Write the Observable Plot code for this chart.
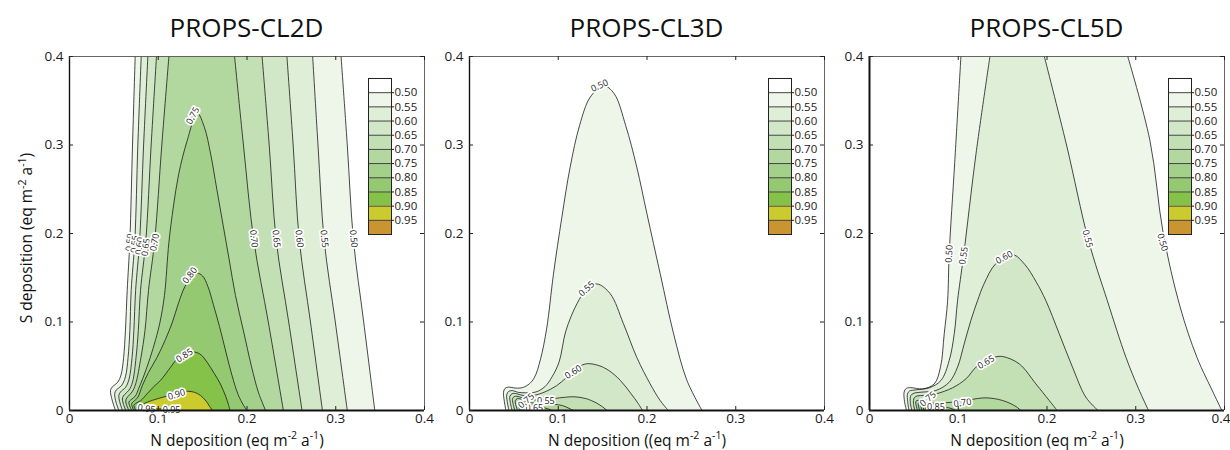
<!DOCTYPE html>
<html>
<head>
<meta charset="utf-8">
<script src="https://cdn.jsdelivr.net/npm/d3@7"></script>
<script src="https://cdn.jsdelivr.net/npm/@observablehq/plot@0.6"></script>
<style>
  body { margin: 0; background: #fff; }
  #wrap { position: relative; width: 1230px; height: 450px; overflow: hidden; background: #fff; font-family: "Open Sans", sans-serif; }
  #wrap > svg { position: absolute; }
</style>
</head>
<body>
<div id="wrap"></div>
<script>
// ---------- axis / legend values ----------
const xTicks = [0, 0.1, 0.2, 0.3, 0.4];
const yTicks = [0, 0.1, 0.2, 0.3, 0.4];
const levels = [0.50, 0.55, 0.60, 0.65, 0.70, 0.75, 0.80, 0.85, 0.90, 0.95];
const levelColors = ["#eef6ea", "#dfeed7", "#d1e7c7", "#c3e0b5", "#b2d89f", "#a3d18b", "#94c972", "#85c24a", "#cccb2d", "#c8952e"];
const belowColor = "#ffffff";
const titles = ["PROPS-CL2D", "PROPS-CL3D", "PROPS-CL5D"];
const xLabelParts = [
  ["N deposition (eq m", "-2", " a", "-1", ")"],
  ["N deposition ((eq m", "-2", " a", "-1", ")"],
  ["N deposition (eq m", "-2", " a", "-1", ")"]
];
const yLabelParts = ["S deposition (eq m", "-2", " a", "-1", ")"];

// ---------- PROPS-CL2D contour lines [N, S] ----------
const A50L = [[0.0518,0],[0.048,0.012],[0.0462,0.0226],[0.0485,0.027],[0.054,0.0315],[0.058,0.04],[0.061,0.06],[0.063,0.09],[0.065,0.1356],[0.068,0.192],[0.071,0.3],[0.074,0.4]];
const A50R = [[0.306,0.4],[0.313,0.3],[0.320,0.192],[0.3315,0.1],[0.344,0]];
const A55L = [[0.0556,0],[0.052,0.011],[0.051,0.0196],[0.053,0.0235],[0.0585,0.028],[0.063,0.038],[0.066,0.06],[0.068,0.09],[0.0695,0.1356],[0.0736,0.192],[0.077,0.3],[0.0808,0.4]];
const A55R = [[0.274,0.4],[0.280,0.3],[0.287,0.192],[0.2995,0.1],[0.313,0]];
const A60L = [[0.0597,0],[0.0565,0.010],[0.0556,0.017],[0.0575,0.021],[0.063,0.026],[0.067,0.035],[0.0705,0.06],[0.0725,0.09],[0.0745,0.1356],[0.079,0.192],[0.0835,0.3],[0.0883,0.4]];
const A60R = [[0.245,0.4],[0.252,0.3],[0.259,0.192],[0.2715,0.1],[0.285,0]];
const A65L = [[0.0635,0],[0.0605,0.008],[0.0597,0.0143],[0.062,0.018],[0.067,0.023],[0.071,0.032],[0.075,0.06],[0.0775,0.09],[0.080,0.1356],[0.086,0.192],[0.092,0.3],[0.098,0.4]];
const A65R = [[0.217,0.4],[0.225,0.3],[0.233,0.192],[0.247,0.1],[0.262,0]];
const A70L = [[0.0669,0],[0.064,0.007],[0.0635,0.012],[0.066,0.016],[0.0705,0.021],[0.0745,0.03],[0.0805,0.06],[0.085,0.09],[0.089,0.1356],[0.096,0.192],[0.104,0.3],[0.112,0.4]];
const A70R = [[0.186,0.4],[0.196,0.3],[0.2077,0.192],[0.224,0.1],[0.241,0]];
const A75 = [[0.070,0],[0.0669,0.0094],[0.069,0.012],[0.074,0.016],[0.078,0.025],[0.084,0.04],[0.091,0.06],[0.097,0.08],[0.102,0.1],[0.107,0.13],[0.112,0.19],[0.117,0.23],[0.123,0.267],[0.1326,0.305],[0.144,0.336],[0.152,0.32],[0.159,0.29],[0.166,0.25],[0.173,0.21],[0.180,0.17],[0.187,0.13],[0.196,0.09],[0.205,0.05],[0.213,0.02],[0.221,0]];
const A80 = [[0.0725,0],[0.070,0.0075],[0.072,0.010],[0.077,0.015],[0.082,0.028],[0.089,0.043],[0.0986,0.06],[0.108,0.08],[0.116,0.1],[0.123,0.122],[0.130,0.140],[0.137,0.151],[0.144,0.155],[0.150,0.152],[0.156,0.140],[0.162,0.12],[0.169,0.095],[0.1765,0.065],[0.183,0.04],[0.190,0.018],[0.196,0.006],[0.200,0]];
const A85 = [[0.0748,0],[0.0725,0.0057],[0.0745,0.008],[0.080,0.011],[0.0875,0.019],[0.095,0.027],[0.1025,0.034],[0.114,0.049],[0.121,0.058],[0.131,0.064],[0.141,0.066],[0.148,0.063],[0.155,0.0546],[0.163,0.042],[0.170,0.030],[0.176,0.016],[0.179,0.007],[0.181,0]];
const A90 = [[0.077,0],[0.0755,0.0035],[0.078,0.0045],[0.0875,0.0094],[0.100,0.0135],[0.112,0.017],[0.122,0.0205],[0.1326,0.0218],[0.141,0.0205],[0.1476,0.017],[0.154,0.0105],[0.158,0.0045],[0.161,0]];
const A95 = [[0.080,0],[0.082,0.0012],[0.100,0.0018],[0.118,0.0016],[0.128,0]];
const labelsA = [["0.50",0.068,0.190,-84],["0.55",0.0736,0.188,-84],["0.60",0.079,0.186,-84],["0.65",0.086,0.1845,-82],["0.70",0.096,0.190,-80],
  ["0.70",0.2077,0.194,84],["0.65",0.233,0.194,84],["0.60",0.259,0.194,84],["0.55",0.287,0.194,84],["0.50",0.320,0.194,84],
  ["0.75",0.139,0.333,-62],["0.80",0.1356,0.1525,-52],["0.85",0.1296,0.062,-32],["0.90",0.1206,0.018,-18],["0.95",0.0868,0.002,8],["0.95",0.115,0.001,0]];

// ---------- PROPS-CL3D contour lines ----------
const B50 = [[0.041,0],[0.039,0.012],[0.0383,0.0207],[0.040,0.025],[0.044,0.0265],[0.050,0.0255],[0.058,0.0255],[0.066,0.029],[0.073,0.037],[0.080,0.058],[0.087,0.093],[0.0946,0.154],[0.104,0.218],[0.1134,0.275],[0.124,0.322],[0.136,0.354],[0.151,0.367],[0.163,0.358],[0.176,0.322],[0.1885,0.275],[0.200,0.222],[0.215,0.154],[0.230,0.0866],[0.245,0.034],[0.262,0]];
const B55 = [[0.0445,0],[0.0425,0.010],[0.042,0.018],[0.044,0.0215],[0.048,0.0225],[0.055,0.0205],[0.063,0.020],[0.075,0.021],[0.085,0.027],[0.093,0.038],[0.101,0.055],[0.1086,0.09],[0.121,0.1205],[0.132,0.137],[0.1435,0.143],[0.1585,0.132],[0.1735,0.098],[0.1885,0.060],[0.2036,0.030],[0.2148,0.0113],[0.224,0]];
const B60 = [[0.048,0],[0.046,0.009],[0.0455,0.016],[0.048,0.019],[0.053,0.019],[0.062,0.0165],[0.072,0.017],[0.085,0.021],[0.098,0.028],[0.109,0.037],[0.118,0.046],[0.131,0.0527],[0.145,0.051],[0.157,0.0452],[0.170,0.034],[0.182,0.019],[0.190,0.008],[0.195,0]];
const B65 = [[0.051,0],[0.049,0.008],[0.0485,0.0135],[0.051,0.016],[0.056,0.0155],[0.065,0.0125],[0.080,0.012],[0.095,0.0135],[0.108,0.015],[0.118,0.0155],[0.131,0.0135],[0.143,0.0085],[0.150,0.004],[0.155,0]];
const B70 = [[0.054,0],[0.052,0.007],[0.0515,0.011],[0.054,0.0135],[0.059,0.0125],[0.068,0.009],[0.080,0.0075],[0.095,0.007],[0.105,0.0055],[0.112,0.0025],[0.117,0]];
const B75 = [[0.057,0],[0.055,0.006],[0.0545,0.0095],[0.057,0.011],[0.062,0.0095],[0.070,0.006],[0.080,0.004],[0.088,0.002],[0.093,0]];
const B80 = [[0.0595,0],[0.058,0.005],[0.0575,0.008],[0.060,0.009],[0.065,0.007],[0.072,0.003],[0.076,0]];
const B85 = [[0.062,0],[0.0605,0.004],[0.0605,0.0065],[0.063,0.007],[0.067,0.005],[0.070,0]];
const B90 = [[0.0645,0],[0.0635,0.003],[0.065,0.0042],[0.067,0.003],[0.068,0]];
const labelsB = [["0.50",0.1465,0.367,-25],["0.55",0.132,0.1375,-42],["0.60",0.117,0.0435,-32],["0.55",0.086,0.0105,0],["0.65",0.073,0.003,0],["0.75",0.064,0.011,-40]];

// ---------- PROPS-CL5D contour lines ----------
const C50L = [[0.0417,0],[0.0395,0.010],[0.039,0.0207],[0.0415,0.025],[0.0466,0.0258],[0.060,0.0245],[0.0729,0.030],[0.080,0.049],[0.0842,0.0867],[0.088,0.124],[0.0898,0.177],[0.096,0.28],[0.103,0.4]];
const C50R = [[0.291,0.4],[0.316,0.305],[0.331,0.2],[0.350,0.117],[0.369,0.060],[0.388,0.0188],[0.397,0]];
const C55L = [[0.0445,0],[0.043,0.010],[0.0428,0.0188],[0.045,0.022],[0.0523,0.0233],[0.0673,0.0256],[0.0805,0.0339],[0.0898,0.0565],[0.0955,0.0867],[0.0992,0.124],[0.106,0.175],[0.120,0.29],[0.1357,0.4]];
const C55R = [[0.197,0.4],[0.222,0.3],[0.2468,0.192],[0.268,0.124],[0.289,0.06],[0.303,0.025],[0.3144,0]];
const C60 = [[0.0478,0],[0.046,0.009],[0.0466,0.017],[0.050,0.0195],[0.058,0.0207],[0.0748,0.0226],[0.0898,0.032],[0.0992,0.049],[0.1067,0.0753],[0.1142,0.1017],[0.1217,0.124],[0.129,0.143],[0.1424,0.166],[0.1615,0.176],[0.175,0.165],[0.188,0.145],[0.1988,0.124],[0.2138,0.0867],[0.2287,0.049],[0.2438,0.015],[0.2575,0]];
const C65 = [[0.051,0],[0.0495,0.008],[0.0504,0.0143],[0.054,0.0165],[0.0617,0.017],[0.0748,0.0188],[0.0935,0.0256],[0.1087,0.0358],[0.120,0.049],[0.131,0.0565],[0.140,0.060],[0.150,0.061],[0.1687,0.0527],[0.1875,0.030],[0.2025,0.0113],[0.2115,0]];
const C70 = [[0.054,0],[0.0525,0.006],[0.0523,0.0105],[0.055,0.0115],[0.0598,0.0094],[0.0748,0.0083],[0.0935,0.0094],[0.112,0.012],[0.1312,0.0143],[0.150,0.0113],[0.165,0.0045],[0.1706,0]];
const C75 = [[0.0565,0],[0.055,0.006],[0.0555,0.0095],[0.059,0.0105],[0.066,0.0085],[0.075,0.006],[0.085,0.004],[0.093,0.002],[0.097,0]];
const C80 = [[0.059,0],[0.058,0.005],[0.0585,0.008],[0.062,0.0085],[0.068,0.0055],[0.075,0.0025],[0.079,0]];
const C85 = [[0.0615,0],[0.0605,0.0045],[0.061,0.007],[0.064,0.007],[0.069,0.0035],[0.071,0]];
const C90 = [[0.064,0],[0.063,0.0035],[0.064,0.005],[0.0665,0.0045],[0.0685,0.002],[0.069,0]];
const labelsC = [["0.50",0.0898,0.177,-86],["0.55",0.106,0.175,-80],["0.60",0.1518,0.173,-28],["0.55",0.2457,0.194,76],["0.50",0.330,0.190,74],
  ["0.65",0.1312,0.0546,-30],["0.70",0.1048,0.0087,-8],["0.75",0.066,0.013,-40],["0.85",0.0748,0.0038,0]];

// ---------- assembly ----------
const panels = [
  {contours: [[A50L,A50R],[A55L,A55R],[A60L,A60R],[A65L,A65R],[A70L,A70R],[A75],[A80],[A85],[A90],[A95]], labels: labelsA},
  {contours: [[B50],[B55],[B60],[B65],[B70],[B75],[B80],[B85],[B90]], labels: labelsB},
  {contours: [[C50L,C50R],[C55L,C55R],[C60],[C65],[C70],[C75],[C80],[C85],[C90]], labels: labelsC}
];
const panelLefts = [69, 469, 869];
const FONT = '"Open Sans", sans-serif';
const fmt = d => d === 0 ? "0" : String(d);
const px = d => d[0], py = d => d[1];

function fillPath(parts) {
  if (parts.length === 1) return parts[0];
  const [L, R] = parts;
  return [...L, L[L.length - 1], R[0], ...R];
}

const wrap = document.getElementById("wrap");

panels.forEach((p, k) => {
  const marks = [];
  p.contours.forEach((parts, i) => {
    marks.push(Plot.line(fillPath(parts), {x: px, y: py, curve: "catmull-rom", fill: levelColors[i], stroke: "none", clip: true}));
  });
  p.contours.forEach(parts => parts.forEach(line => {
    marks.push(Plot.line(line, {x: px, y: py, curve: "catmull-rom", stroke: "#1a1a1a", strokeWidth: 0.8, clip: true}));
  }));
  marks.push(Plot.text(p.labels, {x: d => d[1], y: d => d[2], text: d => d[0], rotate: d => d[3],
    fontSize: 9, fill: "#222", stroke: "white", strokeWidth: 3.5, fontFamily: FONT}));
  // box & inward ticks
  marks.push(Plot.ruleY([0.4], {stroke: "#555", strokeWidth: 0.9}));
  marks.push(Plot.ruleX([0.4], {stroke: "#555", strokeWidth: 0.9}));
  marks.push(Plot.ruleX([0], {stroke: "#111", strokeWidth: k === 2 ? 2 : 1.4}));
  marks.push(Plot.ruleY([0], {stroke: "#111", strokeWidth: 1.8}));
  marks.push(Plot.tickX(xTicks, {x: d => d, insetTop: 350, stroke: "#222"}));
  marks.push(Plot.tickX(xTicks, {x: d => d, insetBottom: 350, stroke: "#222"}));
  marks.push(Plot.tickY(yTicks, {y: d => d, insetRight: 351, stroke: "#222"}));
  marks.push(Plot.tickY(yTicks, {y: d => d, insetLeft: 351, stroke: "#222"}));

  const chart = Plot.plot({
    width: 400, height: 450,
    marginLeft: 45, marginRight: 0, marginTop: 56, marginBottom: 40,
    style: {background: "transparent", overflow: "visible", fontFamily: FONT, fontSize: "13.5px", color: "#1a1a1a"},
    x: {domain: [0, 0.4], ticks: xTicks, tickFormat: fmt, tickSize: 0, tickPadding: 3, label: null},
    y: {domain: [0, 0.4], ticks: yTicks, tickFormat: fmt, tickSize: 0, tickPadding: 6, label: null},
    marks
  });
  chart.style.left = (panelLefts[k] - 45) + "px";
  chart.style.top = "0px";
  wrap.appendChild(chart);

  // keep the last x tick label of the right-most panel inside the picture
  if (k === panels.length - 1) {
    const xt = chart.querySelectorAll('g[aria-label="x-axis tick label"] text');
    if (xt.length) {
      const last = xt[xt.length - 1];
      last.setAttribute("text-anchor", "end");
      last.setAttribute("dx", "6");
    }
  }

  // colour bar legend
  const bands = [{lo: 0.45, hi: 0.50, color: belowColor}, ...levels.map((l, i) => ({lo: l, hi: l + 0.05, color: levelColors[i]}))];
  const bar = Plot.plot({
    width: 62, height: 160, marginLeft: 1, marginRight: 38, marginTop: 2, marginBottom: 2,
    style: {background: "transparent", overflow: "visible", fontFamily: FONT, fontSize: "11.5px", color: "#1a1a1a"},
    color: {type: "identity"},
    y: {domain: [0.45, 1.0], reverse: true, ticks: levels, tickFormat: d3.format(".2f"), axis: "right", tickSize: 2, tickPadding: 1, label: null},
    marks: [
      Plot.rect(bands, {y1: "lo", y2: "hi", fill: "color"}),
      Plot.ruleY(levels, {stroke: "#444", strokeWidth: 1}),
      Plot.frame({stroke: "#222", strokeWidth: 1})
    ]
  });
  bar.style.left = (panelLefts[k] + 298) + "px";
  bar.style.top = "76px";
  wrap.appendChild(bar);
});

// overlay texts: titles and axis labels
const ov = d3.select(wrap).append("svg").attr("width", 1230).attr("height", 450)
  .style("left", "0px").style("top", "0px").style("pointer-events", "none")
  .attr("font-family", FONT).attr("fill", "#111");

function addSupText(sel, parts, size) {
  parts.forEach((t, i) => {
    const sup = i % 2 === 1;
    sel.append("tspan").text(t)
      .attr("font-size", sup ? size * 0.68 : size)
      .attr("dy", sup ? -size * 0.42 : (i > 0 ? size * 0.42 : 0));
  });
}

titles.forEach((t, k) => {
  ov.append("text").attr("x", panelLefts[k] + 177.5).attr("y", 37)
    .attr("text-anchor", "middle").attr("font-size", 26).text(t);
  const xl = ov.append("text").attr("x", panelLefts[k] + 168).attr("y", 446).attr("text-anchor", "middle");
  addSupText(xl, xLabelParts[k], 15.5);
});
const yl = ov.append("text").attr("transform", "translate(32,238) rotate(-90)").attr("text-anchor", "middle");
addSupText(yl, yLabelParts, 15.5);
</script>
</body>
</html>
